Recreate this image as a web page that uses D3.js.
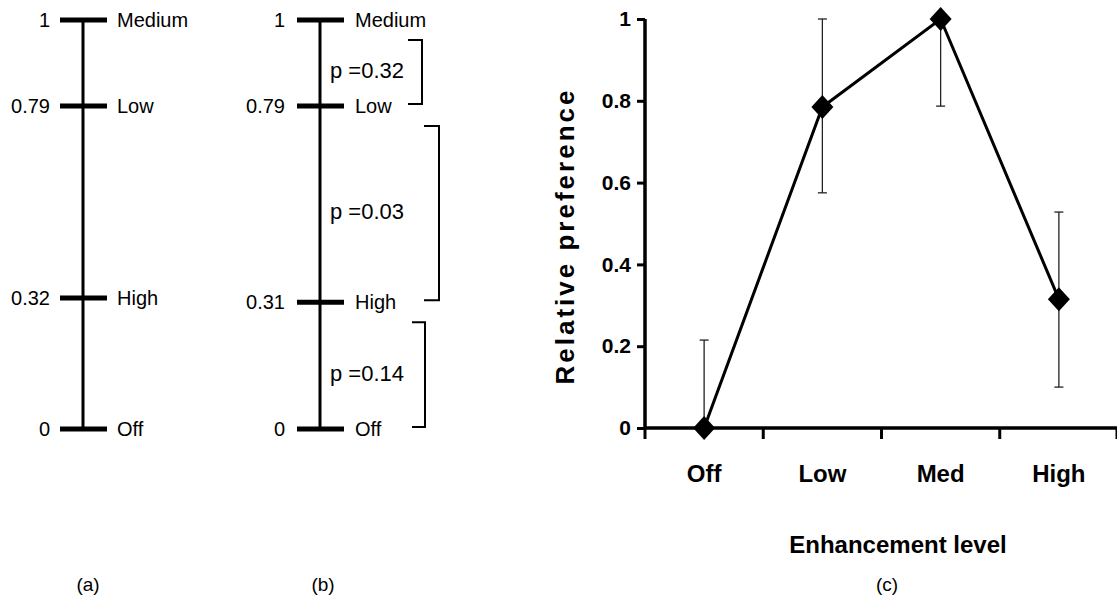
<!DOCTYPE html>
<html>
<head>
<meta charset="utf-8">
<script src="https://cdn.jsdelivr.net/npm/d3@7"></script>
<style>
  body { margin: 0; background: #fff; }
  text { font-family: "Liberation Sans", Arial, sans-serif; fill: #000; }
</style>
</head>
<body>
<div id="chart"></div>
<script>
// panel (a) and (b) scale values
var levelsA = ["Off", "High", "Low", "Medium"];
var valuesA = [0, 0.32, 0.79, 1];
var levelsB = ["Off", "High", "Low", "Medium"];
var valuesB = [0, 0.31, 0.79, 1];
// significance brackets in panel (b): top value, bottom value, label
var bracketTop = [1, 0.79, 0.31];
var bracketBottom = [0.79, 0.31, 0];
var bracketLabels = ["p =0.32", "p =0.03", "p =0.14"];

// panel (c) data
var categories = ["Off", "Low", "Med", "High"];
var preference = [0, 0.785, 1.0, 0.315];
var errUpper = [0.215, 1.0, 1.0, 0.528];
var errLower = [0, 0.575, 0.787, 0.10];
var yTicks = [0, 0.2, 0.4, 0.6, 0.8, 1];

function init(){
    var w = 1117;
    var h = 599;

    var svg = d3.select("#chart")
                .append("svg")
                .attr("width", w)
                .attr("height", h);

    // shared vertical scale for the ladders
    var ladderY = d3.scaleLinear().domain([0, 1]).range([429, 20]);

    function ladder(cx, values, levels, leftX, rightX){
        var g = svg.append("g");
        g.append("line")
            .attr("x1", cx).attr("x2", cx)
            .attr("y1", ladderY(0)).attr("y2", ladderY(1))
            .attr("stroke", "#000").attr("stroke-width", 3);
        g.selectAll("line.tick")
            .data(values)
            .enter()
            .append("line")
            .attr("class", "tick")
            .attr("x1", cx - 23).attr("x2", cx + 24)
            .attr("y1", function(d){ return ladderY(d); })
            .attr("y2", function(d){ return ladderY(d); })
            .attr("stroke", "#000").attr("stroke-width", 5);
        g.selectAll("text.val")
            .data(values)
            .enter()
            .append("text")
            .attr("class", "val")
            .attr("x", leftX)
            .attr("y", function(d){ return ladderY(d); })
            .attr("dy", "0.36em")
            .attr("text-anchor", "end")
            .style("font-size", "20px")
            .text(function(d){ return d; });
        g.selectAll("text.lvl")
            .data(levels)
            .enter()
            .append("text")
            .attr("class", "lvl")
            .attr("x", rightX)
            .attr("y", function(d, i){ return ladderY(values[i]); })
            .attr("dy", "0.36em")
            .style("font-size", "20px")
            .text(function(d){ return d; });
    }

    ladder(83, valuesA, levelsA, 50, 117);
    ladder(320, valuesB, levelsB, 285, 355);

    // brackets for panel (b)
    var bracketRight = [422, 439, 425];
    var bracketLeft = [408, 424, 412];
    bracketLabels.forEach(function(lab, i){
        var y1 = ladderY(bracketTop[i]) + 20;
        var y2 = ladderY(bracketBottom[i]) - 2;
        svg.append("path")
            .attr("d", "M" + bracketLeft[i] + "," + y1 + "H" + bracketRight[i] +
                       "V" + y2 + "H" + bracketLeft[i])
            .attr("fill", "none")
            .attr("stroke", "#000")
            .attr("stroke-width", 2);
        svg.append("text")
            .attr("x", 330)
            .attr("y", (y1 + y2) / 2 - 2)
            .attr("dy", "0.36em")
            .style("font-size", "22px")
            .text(lab);
    });

    // panel (c)
    var xScale = d3.scaleBand()
                    .domain(categories)
                    .range([645, 1118]);
    var yScale = d3.scaleLinear()
                    .domain([0, 1])
                    .range([428, 19]);

    var yAxis = svg.append("g")
        .attr("transform", "translate(645,0)")
        .call(d3.axisLeft(yScale).tickValues(yTicks).tickSize(8)
              .tickFormat(function(d){ return d; }));
    yAxis.select(".domain").attr("stroke-width", 3.5)
        .attr("d", "M0," + yScale(0) + "V" + yScale(1));
    yAxis.selectAll(".tick line").attr("stroke-width", 3);
    yAxis.selectAll(".tick text")
        .attr("x", -14)
        .style("font-family", "'Liberation Sans', Arial, sans-serif")
        .style("font-size", "21px")
        .style("font-weight", "bold");

    var xAxis = svg.append("g")
        .attr("transform", "translate(0," + yScale(0) + ")")
        .call(d3.axisBottom(xScale).tickSize(0).tickFormat(""));
    xAxis.select(".domain").attr("stroke-width", 3.5)
        .attr("d", "M645,0H1118");
    // tick marks at category boundaries
    var bounds = categories.map(function(c){ return xScale(c); }).concat([xScale.range()[1] - 1]);
    xAxis.selectAll("line.bound")
        .data(bounds)
        .enter()
        .append("line")
        .attr("class", "bound")
        .attr("x1", function(d){ return d; })
        .attr("x2", function(d){ return d; })
        .attr("y1", 0).attr("y2", 11)
        .attr("stroke", "#000").attr("stroke-width", 3);

    svg.selectAll("text.cat")
        .data(categories)
        .enter()
        .append("text")
        .attr("class", "cat")
        .attr("x", function(d){ return xScale(d) + xScale.bandwidth() / 2; })
        .attr("y", 482)
        .attr("text-anchor", "middle")
        .style("font-size", "24px")
        .style("font-weight", "bold")
        .text(function(d){ return d; });

    // error bars
    var cx = function(i){ return xScale(categories[i]) + xScale.bandwidth() / 2; };
    var eb = svg.append("g").attr("stroke", "#222").attr("stroke-width", 1.3);
    preference.forEach(function(v, i){
        eb.append("line")
            .attr("x1", cx(i)).attr("x2", cx(i))
            .attr("y1", yScale(errLower[i])).attr("y2", yScale(errUpper[i]));
        eb.append("line")
            .attr("x1", cx(i) - 4.5).attr("x2", cx(i) + 4.5)
            .attr("y1", yScale(errUpper[i])).attr("y2", yScale(errUpper[i]));
        if (errLower[i] > 0) {
            eb.append("line")
                .attr("x1", cx(i) - 4.5).attr("x2", cx(i) + 4.5)
                .attr("y1", yScale(errLower[i])).attr("y2", yScale(errLower[i]));
        }
    });

    // line
    var line = d3.line()
        .x(function(d, i){ return cx(i); })
        .y(function(d){ return yScale(d); });
    svg.append("path")
        .datum(preference)
        .attr("d", line)
        .attr("fill", "none")
        .attr("stroke", "#000")
        .attr("stroke-width", 3);

    // diamond markers
    svg.selectAll("path.mark")
        .data(preference)
        .enter()
        .append("path")
        .attr("class", "mark")
        .attr("d", function(d, i){
            var x = cx(i), y = yScale(d);
            return "M" + x + "," + (y - 12) + "L" + (x + 11) + "," + y +
                   "L" + x + "," + (y + 12) + "L" + (x - 11) + "," + y + "Z";
        })
        .attr("fill", "#000");

    // axis titles
    svg.append("text")
        .attr("transform", "translate(574,236) rotate(-90)")
        .attr("text-anchor", "middle")
        .style("font-size", "26px")
        .style("font-weight", "bold")
        .style("letter-spacing", "3px")
        .text("Relative preference");

    svg.append("text")
        .attr("x", 898)
        .attr("y", 553)
        .attr("text-anchor", "middle")
        .style("font-size", "24px")
        .style("font-weight", "bold")
        .text("Enhancement level");

    // panel labels
    var panelLabels = ["(a)", "(b)", "(c)"];
    var panelX = [88, 323, 887];
    svg.selectAll("text.panel")
        .data(panelLabels)
        .enter()
        .append("text")
        .attr("class", "panel")
        .attr("x", function(d, i){ return panelX[i]; })
        .attr("y", 591)
        .attr("text-anchor", "middle")
        .style("font-size", "19px")
        .text(function(d){ return d; });
}

window.onload = init;
</script>
</body>
</html>
